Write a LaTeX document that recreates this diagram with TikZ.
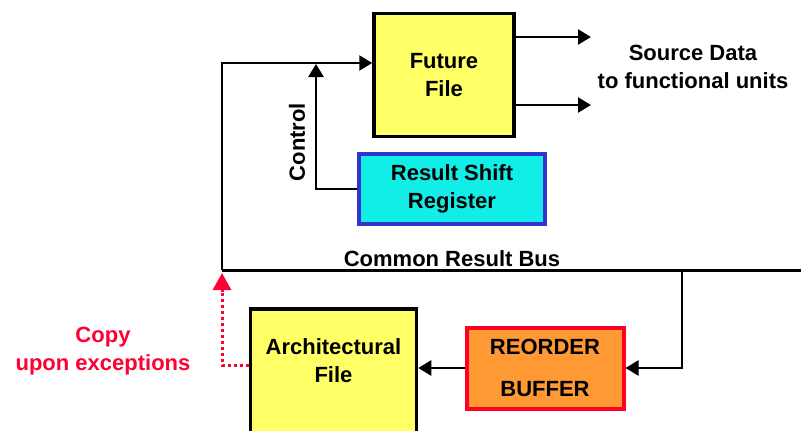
\documentclass[tikz,border=0pt]{standalone}
\usepackage{fontspec}
\setmainfont{Liberation Sans}
\usetikzlibrary{arrows.meta}
\definecolor{fileyellow}{RGB}{255,255,102}
\definecolor{regcyan}{RGB}{17,238,232}
\definecolor{regblue}{RGB}{51,51,204}
\definecolor{roborange}{RGB}{255,153,51}
\definecolor{robred}{RGB}{255,0,34}
\definecolor{copyred}{RGB}{255,0,51}
\tikzset{
  lbl/.style={font=\fontsize{22}{28}\selectfont\bfseries, align=center, inner sep=0pt},
  filebox/.style={draw=black, line width=3.5pt, fill=fileyellow},
  wire/.style={line width=2.5pt, draw=black},
  arr/.style={wire, -{Triangle[length=13pt,width=15pt]}},
}
\begin{document}
\begin{tikzpicture}[x=1pt,y=-1pt]
\clip (0,0) rectangle (801,431);

% register blocks
\node[filebox, minimum width=140pt, minimum height=123pt, lbl] (ff) at (444,75) {Future\\File};
\node[draw=regblue, line width=3.5pt, fill=regcyan, minimum width=186pt, minimum height=70pt, lbl] (rsr) at (452,189) {Result Shift\\Register};
\node[draw=robred, line width=4pt, fill=roborange, minimum width=157pt, minimum height=81pt, lbl, font=\fontsize{22}{42}\selectfont\bfseries] (rob) at (545,368) {REORDER\\BUFFER};
\node[filebox, minimum width=166pt, minimum height=140pt] (af) at (333.5,379) {};
\node[lbl] (aflbl) at (333.5,361) {Architectural\\File};

% bus and loops
\coordinate (busL) at (222,270);
\coordinate (busR) at (801,270);
\coordinate (c1) at (222,63);
\coordinate (tap) at (682,270);
\coordinate (ctl) at (316,64);
\coordinate (o1) at (591,37);
\coordinate (o2) at (591,105);
\coordinate (cpy) at (222,273);

\draw[wire, line width=3pt] (busL) -- (busR);
\draw[arr] (busL) -- (c1) -- (ff.west |- c1);
\draw[arr] (rsr.west) -| (ctl);
\draw[arr] (ff.east |- o1) -- (o1);
\draw[arr] (ff.east |- o2) -- (o2);
\draw[arr] (tap) |- (rob.east);
\draw[arr] (rob.west) -- (af.east |- rob.west);
\draw[copyred, line width=3pt, dash pattern=on 3pt off 3pt] (af.west |- 0,365) -| (222,290);
\draw[copyred, line width=3pt, -{Triangle[length=17pt,width=18pt]}] (222,292) -- (cpy);

% labels
\node[lbl] (src) at (693,67) {Source Data\\to functional units};
\node[lbl, rotate=90] (ctllbl) at (297,142) {Control};
\node[lbl, anchor=base] (buslbl) at (452,266) {Common Result Bus};
\node[lbl, text=copyred] (copylbl) at (103,351) {Copy\\upon exceptions};
\end{tikzpicture}
\end{document}
